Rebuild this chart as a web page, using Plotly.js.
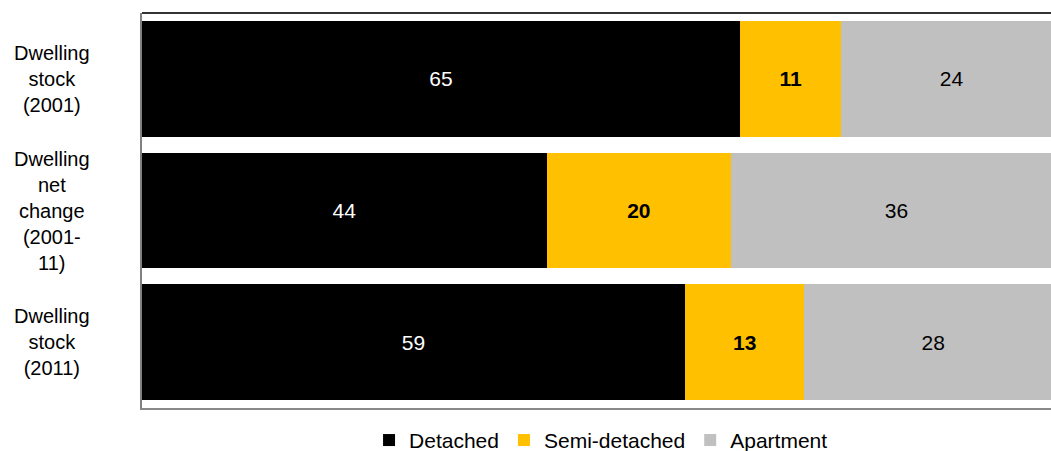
<!DOCTYPE html>
<html>
<head>
<meta charset="utf-8">
<script src="https://cdn.plot.ly/plotly-3.0.1.min.js"></script>
<style>html,body{margin:0;padding:0;background:#fff;}#chart{width:1051px;height:451px;}</style>
</head>
<body>
<div id="chart"></div>
<script>
const categories = ["Dwelling stock (2001)", "Dwelling net change (2001-11)", "Dwelling stock (2011)"];
const categoryLabels = ["Dwelling<br>stock<br>(2001)", "Dwelling<br>net<br>change<br>(2001-<br>11)", "Dwelling<br>stock<br>(2011)"];
const detached = [65, 44, 59];
const semiDetached = [11, 20, 13];
const apartment = [24, 36, 28];

const FONT = "Liberation Sans, Arial, sans-serif";

const traces = [
  {name: "Detached", x: detached, color: "#000000", textColor: "#ffffff", bold: false},
  {name: "Semi-detached", x: semiDetached, color: "#FFC000", textColor: "#000000", bold: true},
  {name: "Apartment", x: apartment, color: "#C0C0C0", textColor: "#000000", bold: false}
].map(s => ({
  type: "bar",
  orientation: "h",
  name: s.name,
  y: categories,
  x: s.x,
  marker: {color: s.color, line: {width: 0}},
  text: s.x.map(String),
  texttemplate: s.bold ? "<b>%{x}</b>" : "%{x}",
  textposition: "inside",
  insidetextanchor: "middle",
  textangle: 0,
  insidetextfont: {family: FONT, size: 21, color: s.textColor},
  hoverinfo: "name+x"
}));

const annotations = categories.map((c, i) => ({
  xref: "paper", yref: "y",
  x: -0.099, y: c,
  text: categoryLabels[i],
  showarrow: false,
  align: "center",
  xanchor: "center",
  yanchor: "middle",
  font: {family: FONT, size: 20, color: "#000000"}
}));

const layout = {
  width: 1051, height: 451,
  margin: {l: 142, r: 0, t: 13, b: 43, pad: 0, autoexpand: false},
  barmode: "stack",
  bargap: 0.12,
  paper_bgcolor: "#ffffff",
  plot_bgcolor: "#ffffff",
  showlegend: true,
  legend: {
    orientation: "h",
    x: 0.505, xanchor: "center",
    y: -0.082, yanchor: "middle",
    font: {family: FONT, size: 21, color: "#000000"},
    itemwidth: 30,
    traceorder: "normal"
  },
  xaxis: {
    range: [0, 98.8],
    showgrid: false,
    zeroline: false,
    showticklabels: false,
    ticks: "",
    showline: true,
    linecolor: "#888888",
    linewidth: 2,
    fixedrange: true
  },
  yaxis: {
    type: "category",
    categoryorder: "array",
    categoryarray: categories,
    range: [2.5, -0.5],
    showgrid: false,
    zeroline: false,
    showticklabels: false,
    ticks: "",
    showline: true,
    linecolor: "#808080",
    linewidth: 2,
    fixedrange: true
  },
  shapes: [{
    type: "line", xref: "paper", yref: "paper",
    x0: 0, x1: 1, y0: 1, y1: 1,
    line: {color: "#333333", width: 2}
  }],
  annotations: annotations,
  font: {family: FONT, size: 21, color: "#000000"}
};

Plotly.newPlot("chart", traces, layout, {displayModeBar: false, staticPlot: true});
</script>
</body>
</html>
